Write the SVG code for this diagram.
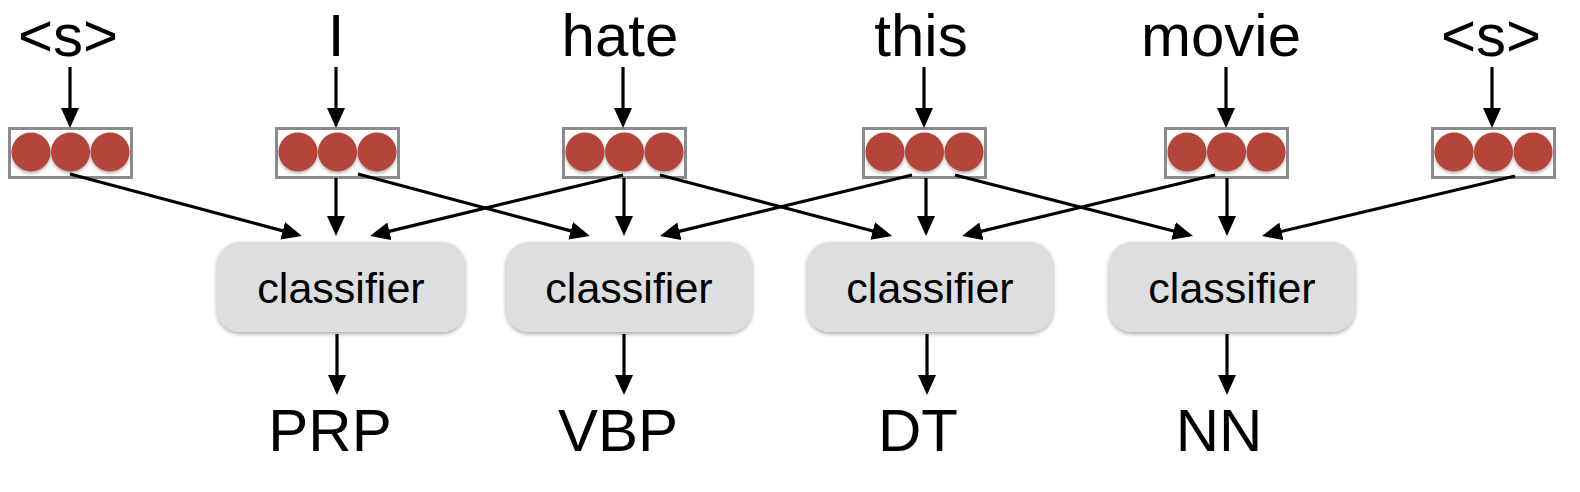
<svg xmlns="http://www.w3.org/2000/svg" width="1580" height="492" viewBox="0 0 1580 492">
<defs>
<style>
.word{font-family:"Liberation Sans",Arial,Helvetica,sans-serif;font-size:60px;fill:#000;text-anchor:middle}
.cls{font-family:"Liberation Sans",Arial,Helvetica,sans-serif;font-size:43px;fill:#000;text-anchor:middle}
.vec{fill:#fff;stroke:#8b8b8f;stroke-width:3}
.dot{fill:#b4453a}
.clsbox{fill:#dddee0}
.edge{stroke:#000;stroke-width:3.2;fill:none;marker-end:url(#ah)}
</style>
<marker id="ah" markerUnits="userSpaceOnUse" markerWidth="20" markerHeight="18" refX="10" refY="9" orient="auto" viewBox="0 0 20 18">
<path d="M0,0 L20,9 L0,18 z" fill="#000"/>
</marker>
<filter id="sh" x="-10%" y="-10%" width="120%" height="130%">
<feDropShadow dx="0" dy="2" stdDeviation="2" flood-color="#000" flood-opacity="0.35"/>
</filter>
<filter id="dsh" x="-20%" y="-20%" width="140%" height="150%">
<feDropShadow dx="0" dy="2" stdDeviation="1.5" flood-color="#000" flood-opacity="0.3"/>
</filter>
<g id="dots">
<circle class="dot" cx="-39.5" cy="0" r="19.5" filter="url(#dsh)"/>
<circle class="dot" cx="0" cy="0" r="19.5" filter="url(#dsh)"/>
<circle class="dot" cx="39.5" cy="0" r="19.5" filter="url(#dsh)"/>
</g>
</defs>
<rect width="1580" height="492" fill="#fff"/>

<g id="words">
<text class="word" x="68" y="56">&lt;s&gt;</text>
<text class="word" x="336" y="56">I</text>
<text class="word" x="620" y="56">hate</text>
<text class="word" x="921" y="56">this</text>
<text class="word" x="1221" y="56">movie</text>
<text class="word" x="1491" y="56">&lt;s&gt;</text>
</g>

<g id="vec1"><rect class="vec" x="9.5" y="128.5" width="122" height="49"/><use href="#dots" x="70.5" y="152"/></g>
<g id="vec2"><rect class="vec" x="276.5" y="128.5" width="122" height="49"/><use href="#dots" x="337.5" y="152"/></g>
<g id="vec3"><rect class="vec" x="563.5" y="128.5" width="122" height="49"/><use href="#dots" x="624.5" y="152"/></g>
<g id="vec4"><rect class="vec" x="863.5" y="128.5" width="122" height="49"/><use href="#dots" x="924.5" y="152"/></g>
<g id="vec5"><rect class="vec" x="1165.5" y="128.5" width="122" height="49"/><use href="#dots" x="1226.5" y="152"/></g>
<g id="vec6"><rect class="vec" x="1432.5" y="128.5" width="122" height="49"/><use href="#dots" x="1493.5" y="152"/></g>

<g id="clf1"><rect class="clsbox" x="217" y="242" width="248" height="90" rx="23" filter="url(#sh)"/><text class="cls" x="341" y="303">classifier</text></g>
<g id="clf2"><rect class="clsbox" x="506" y="242" width="246" height="90" rx="23" filter="url(#sh)"/><text class="cls" x="629" y="303">classifier</text></g>
<g id="clf3"><rect class="clsbox" x="807" y="242" width="246" height="90" rx="23" filter="url(#sh)"/><text class="cls" x="930" y="303">classifier</text></g>
<g id="clf4"><rect class="clsbox" x="1109" y="242" width="246" height="90" rx="23" filter="url(#sh)"/><text class="cls" x="1232" y="303">classifier</text></g>

<g id="tags">
<text class="word" x="330" y="451">PRP</text>
<text class="word" x="618" y="451">VBP</text>
<text class="word" x="918" y="451">DT</text>
<text class="word" x="1219" y="451">NN</text>
</g>

<g id="connectors">
<line class="edge" x1="70" y1="67" x2="70" y2="118"/>
<line class="edge" x1="336" y1="67" x2="336" y2="118"/>
<line class="edge" x1="623" y1="67" x2="623" y2="118"/>
<line class="edge" x1="924" y1="67" x2="924" y2="118"/>
<line class="edge" x1="1226" y1="67" x2="1226" y2="118"/>
<line class="edge" x1="1492" y1="67" x2="1492" y2="118"/>

<line class="edge" x1="70" y1="174" x2="292.3" y2="233.4"/>
<line class="edge" x1="336" y1="178" x2="336" y2="226"/>
<line class="edge" x1="358" y1="174" x2="580.3" y2="233.4"/>
<line class="edge" x1="623" y1="175" x2="379.7" y2="233.6"/>
<line class="edge" x1="624" y1="178" x2="624" y2="226"/>
<line class="edge" x1="660" y1="175" x2="882.4" y2="233.5"/>
<line class="edge" x1="912" y1="175" x2="669.7" y2="233.6"/>
<line class="edge" x1="926" y1="178" x2="926" y2="226"/>
<line class="edge" x1="955" y1="175" x2="1183.3" y2="233.5"/>
<line class="edge" x1="1215" y1="175" x2="971.7" y2="233.6"/>
<line class="edge" x1="1227" y1="178" x2="1227" y2="226"/>
<line class="edge" x1="1515" y1="176" x2="1271.7" y2="233.7"/>

<line class="edge" x1="337" y1="334" x2="337" y2="385"/>
<line class="edge" x1="624" y1="334" x2="624" y2="385"/>
<line class="edge" x1="927" y1="334" x2="927" y2="385"/>
<line class="edge" x1="1227" y1="334" x2="1227" y2="385"/>
</g>
</svg>
